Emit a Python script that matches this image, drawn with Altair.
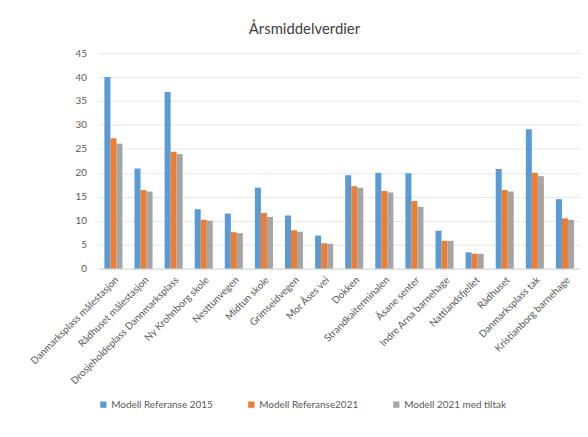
import altair as alt
import pandas as pd

stations = [
    "Danmarksplass målestasjon", "Rådhuset målestasjon", "Drosjeholdeplass Dannmarksplass",
    "Ny Krohnborg skole", "Nesttunvegen", "Midtun skole", "Grimseidvegen", "Mor Åses vei",
    "Dokken", "Strandkaiterminalen", "Åsane senter", "Indre Arna barnehage",
    "Nattlandsfjellet", "Rådhuset", "Danmarksplass tak", "Kristianborg barnehage",
]
series = ["Modell Referanse 2015", "Modell Referanse2021", "Modell 2021 med tiltak"]
ref2015 = [40.0, 20.9, 36.9, 12.4, 11.5, 16.9, 11.1, 6.9, 19.5, 20.0, 19.9, 7.9, 3.4, 20.8, 29.1, 14.5]
ref2021 = [27.2, 16.4, 24.4, 10.2, 7.6, 11.6, 8.0, 5.3, 17.2, 16.2, 14.1, 5.8, 3.1, 16.4, 20.0, 10.5]
tiltak = [26.1, 16.1, 23.9, 10.0, 7.4, 10.8, 7.7, 5.2, 16.9, 15.9, 12.9, 5.8, 3.1, 16.1, 19.3, 10.2]
colors = ["#5B9BD5", "#ED7D31", "#A5A5A5"]

rows = []
for vals, s in zip([ref2015, ref2021, tiltak], series):
    for st, v in zip(stations, vals):
        rows.append({"stasjon": st, "serie": s, "verdi": v})
df = pd.DataFrame(rows)

chart = alt.Chart(df).mark_bar().encode(
    x=alt.X("stasjon:N", sort=stations, title=None,
            scale=alt.Scale(paddingInner=0.4, paddingOuter=0.2),
            axis=alt.Axis(labelAngle=-45, labelAlign="right", labelBaseline="top",
                          ticks=False, domainColor="#D9D9D9", labelColor="#595959",
                          labelFontSize=10, labelFont="Lato", labelPadding=6, labelLimit=300)),
    xOffset=alt.XOffset("serie:N", sort=series),
    y=alt.Y("verdi:Q", title=None,
            scale=alt.Scale(domain=[0, 45]),
            axis=alt.Axis(values=list(range(0, 46, 5)), domain=False, ticks=False,
                          gridColor="#E6E6E6", labelColor="#595959", labelFontSize=10,
                          labelFont="Lato", labelPadding=12)),
    color=alt.Color("serie:N", sort=series, title=None,
                    scale=alt.Scale(domain=series, range=colors),
                    legend=alt.Legend(orient="none", legendX=0, legendY=349, direction="horizontal",
                                      symbolType="square", symbolSize=40, symbolStrokeWidth=0,
                                      labelColor="#595959", labelFontSize=10, labelFont="Lato",
                                      columnPadding=33, labelOffset=3)),
).properties(
    width=485, height=217,
    padding={"left": 20, "top": 13, "right": 0, "bottom": 5},
    title=alt.TitleParams("Årsmiddelverdier", fontSize=15, font="Lato", fontWeight="normal",
                          color="#404040", dx=-35, offset=11),
).configure_view(stroke=None)

chart.save("out.html", embed_options={"renderer": "svg", "actions": False})
